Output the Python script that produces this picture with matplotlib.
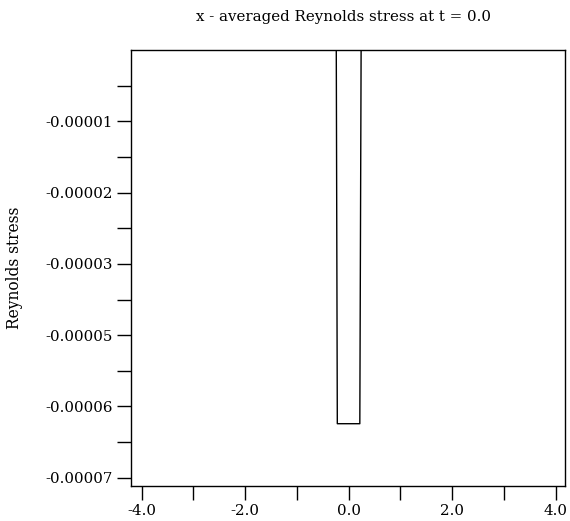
import matplotlib
matplotlib.use("Agg")
import matplotlib.pyplot as plt
import numpy as np

# data
x_vals = [-4.2, -0.24, -0.22, 0.215, 0.24, 4.2]
stress = [0.0, 0.0, -6.0e-5, -6.0e-5, 0.0, 0.0]
tick_step = 1.1445e-5
y_major = [-k * tick_step for k in range(1, 7)]
y_minor = [-(k + 0.5) * tick_step for k in range(0, 6)]
x_major = [-4.0, -2.0, 0.0, 2.0, 4.0]
x_minor = [-3.0, -1.0, 1.0, 3.0]

fig = plt.figure(figsize=(5.7, 5.21), dpi=100)
ax = fig.add_axes([0.2293, 0.0672, 0.9921 - 0.2293, 0.904 - 0.0672])
ax.plot(x_vals, stress, color="black", lw=1.0, clip_on=True)
ax.set_xlim(-4.213, 4.19)
ax.set_ylim(-7.0e-5, 0.0)

ax.set_yticks(y_major)
ax.set_yticks(y_minor, minor=True)
ax.set_yticklabels(["%.5f" % v for v in y_major])
ax.set_xticks(x_major)
ax.set_xticks(x_minor, minor=True)
ax.set_xticklabels(["%.1f" % v for v in x_major])

for lab in ax.get_xticklabels() + ax.get_yticklabels():
    lab.set_family("DejaVu Serif")
    lab.set_fontsize(10.8)
ax.tick_params(which="both", direction="out", length=10, width=1, color="black", pad=3)
for s in ax.spines.values():
    s.set_linewidth(1)
    s.set_color("black")

fig.text(15 / 570, 1 - 268 / 521, "Reynolds stress", rotation=90, ha="center", va="center",
         family="DejaVu Serif", fontsize=11.2)
fig.text(343 / 570, 1 - 17 / 521, "x - averaged Reynolds stress at t = 0.0", ha="center", va="center",
         family="DejaVu Serif", fontsize=10.8)

fig.savefig("out.png", dpi=100)
